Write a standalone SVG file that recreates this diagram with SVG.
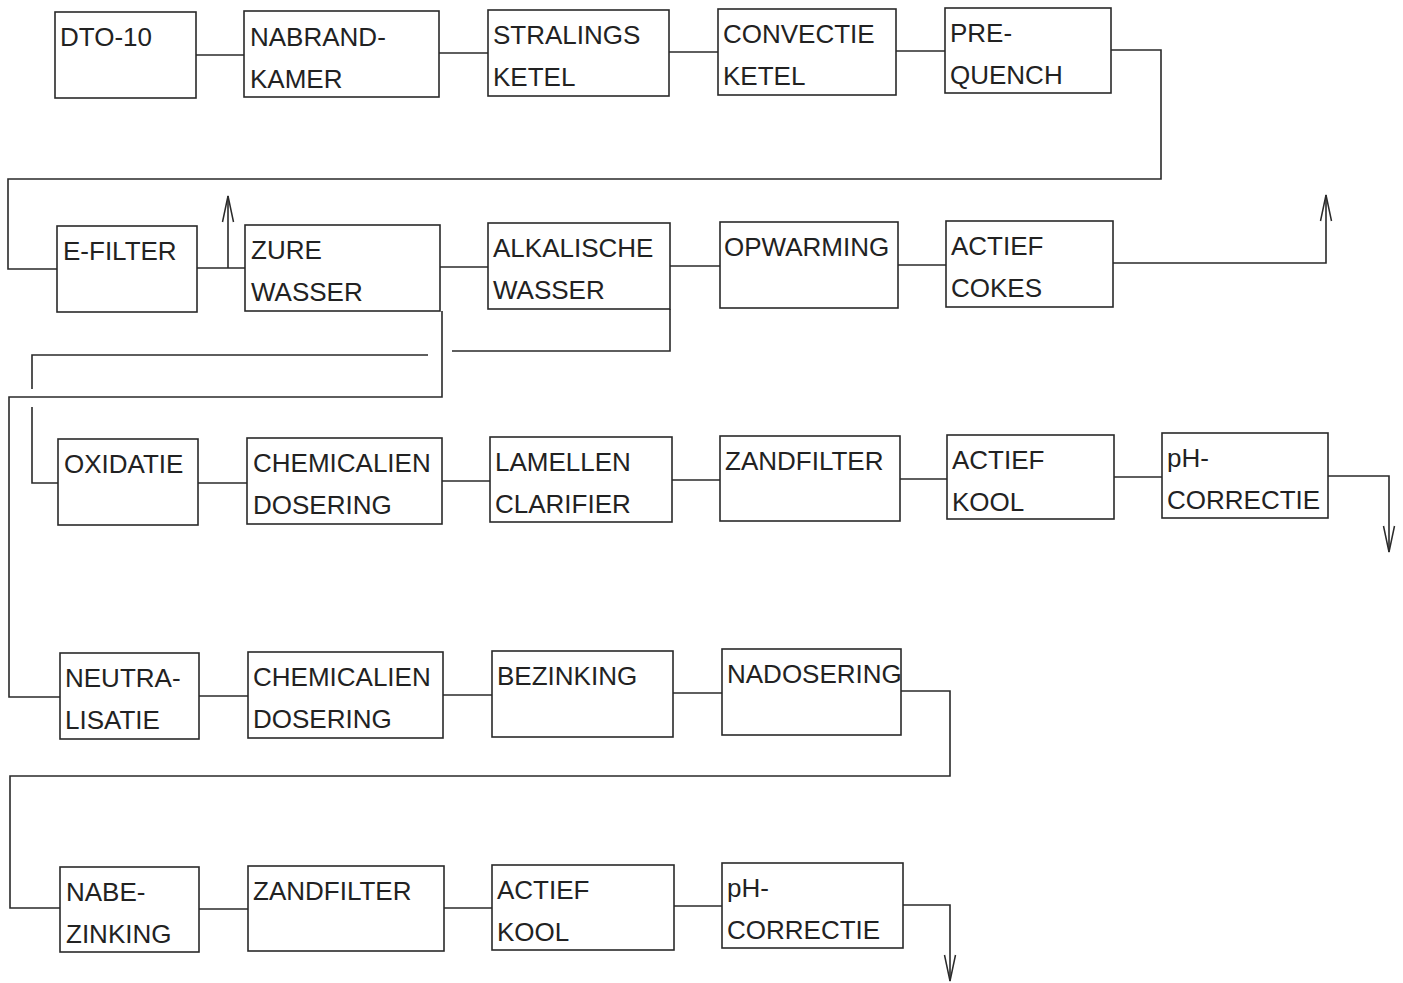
<svg xmlns="http://www.w3.org/2000/svg" width="1403" height="983" viewBox="0 0 1403 983">
<style>
.box{fill:none;stroke:#2a2a2a;stroke-width:1.6}
.ln{fill:none;stroke:#2a2a2a;stroke-width:1.6}
text{font-family:"Liberation Sans",Arial,sans-serif;font-size:26px;fill:#222}
</style>
<defs>
<marker id="ah" markerUnits="userSpaceOnUse" markerWidth="32" markerHeight="16" viewBox="-30 -8 32 16" refX="0" refY="0" orient="auto">
<path d="M-26,-5.5 L0,0 L-26,5.5" fill="none" stroke="#2a2a2a" stroke-width="1.5"/>
</marker>
</defs>
<rect width="1403" height="983" fill="#fff"/>
<g id="connectors">
<path class="ln" d="M196,55 H244"/>
<path class="ln" d="M439,53 H488"/>
<path class="ln" d="M669,52 H718"/>
<path class="ln" d="M896,51 H945"/>
<path class="ln" d="M1111,50 H1161 V179 H8 V269 H57"/>
<path class="ln" d="M197,268 H245"/>
<path class="ln" d="M228,268 V196" marker-end="url(#ah)"/>
<path class="ln" d="M440,267 H488"/>
<path class="ln" d="M670,266 H720"/>
<path class="ln" d="M898,265 H946"/>
<path class="ln" d="M1113,263 H1326 V195" marker-end="url(#ah)"/>
<path class="ln" d="M442,311 V397 H9 V697 H60"/>
<path class="ln" d="M670,309 V351 H452"/>
<path class="ln" d="M428,355 H32 V389"/>
<path class="ln" d="M32,407 V483 H58"/>
<path class="ln" d="M198,483 H247"/>
<path class="ln" d="M442,481 H490"/>
<path class="ln" d="M672,480 H720"/>
<path class="ln" d="M900,479 H947"/>
<path class="ln" d="M1114,477 H1162"/>
<path class="ln" d="M1328,476 H1389 V552" marker-end="url(#ah)"/>
<path class="ln" d="M199,696 H248"/>
<path class="ln" d="M443,695 H492"/>
<path class="ln" d="M673,693 H722"/>
<path class="ln" d="M901,691 H950 V776 H10 V908 H60"/>
<path class="ln" d="M199,909 H248"/>
<path class="ln" d="M444,908 H492"/>
<path class="ln" d="M674,906 H722"/>
<path class="ln" d="M903,905 H950 V981" marker-end="url(#ah)"/>
</g>
<g id="dto10"><rect class="box" x="55" y="12" width="141" height="86"/><text x="60" y="46">DTO-10</text></g>
<g id="nabrandkamer"><rect class="box" x="244" y="11" width="195" height="86"/><text x="250" y="46">NABRAND-</text><text x="250" y="88">KAMER</text></g>
<g id="stralingsketel"><rect class="box" x="488" y="10" width="181" height="86"/><text x="493" y="44">STRALINGS</text><text x="493" y="86">KETEL</text></g>
<g id="convectieketel"><rect class="box" x="718" y="9" width="178" height="86"/><text x="723" y="43">CONVECTIE</text><text x="723" y="85">KETEL</text></g>
<g id="prequench"><rect class="box" x="945" y="8" width="166" height="85"/><text x="950" y="42">PRE-</text><text x="950" y="84">QUENCH</text></g>
<g id="efilter"><rect class="box" x="57" y="226" width="140" height="86"/><text x="63" y="260">E-FILTER</text></g>
<g id="zurewasser"><rect class="box" x="245" y="225" width="195" height="86"/><text x="251" y="259">ZURE</text><text x="251" y="301">WASSER</text></g>
<g id="alkalischewasser"><rect class="box" x="488" y="223" width="182" height="86"/><text x="493" y="257">ALKALISCHE</text><text x="493" y="299">WASSER</text></g>
<g id="opwarming"><rect class="box" x="720" y="222" width="178" height="86"/><text x="724" y="256">OPWARMING</text></g>
<g id="actiefcokes"><rect class="box" x="946" y="221" width="167" height="86"/><text x="951" y="255">ACTIEF</text><text x="951" y="297">COKES</text></g>
<g id="oxidatie"><rect class="box" x="58" y="439" width="140" height="86"/><text x="64" y="473">OXIDATIE</text></g>
<g id="chemdosering1"><rect class="box" x="247" y="438" width="195" height="86"/><text x="253" y="472">CHEMICALIEN</text><text x="253" y="514">DOSERING</text></g>
<g id="lamellenclarifier"><rect class="box" x="490" y="437" width="182" height="85"/><text x="495" y="471">LAMELLEN</text><text x="495" y="513">CLARIFIER</text></g>
<g id="zandfilter1"><rect class="box" x="720" y="436" width="180" height="85"/><text x="725" y="470">ZANDFILTER</text></g>
<g id="actiefkool1"><rect class="box" x="947" y="435" width="167" height="84"/><text x="952" y="469">ACTIEF</text><text x="952" y="511">KOOL</text></g>
<g id="phcorrectie1"><rect class="box" x="1162" y="433" width="166" height="85"/><text x="1167" y="467">pH-</text><text x="1167" y="509">CORRECTIE</text></g>
<g id="neutralisatie"><rect class="box" x="60" y="653" width="139" height="86"/><text x="65" y="687">NEUTRA-</text><text x="65" y="729">LISATIE</text></g>
<g id="chemdosering2"><rect class="box" x="248" y="652" width="195" height="86"/><text x="253" y="686">CHEMICALIEN</text><text x="253" y="728">DOSERING</text></g>
<g id="bezinking"><rect class="box" x="492" y="651" width="181" height="86"/><text x="497" y="685">BEZINKING</text></g>
<g id="nadosering"><rect class="box" x="722" y="649" width="179" height="86"/><text x="727" y="683">NADOSERING</text></g>
<g id="nabezinking"><rect class="box" x="60" y="867" width="139" height="85"/><text x="66" y="901">NABE-</text><text x="66" y="943">ZINKING</text></g>
<g id="zandfilter2"><rect class="box" x="248" y="866" width="196" height="85"/><text x="253" y="900">ZANDFILTER</text></g>
<g id="actiefkool2"><rect class="box" x="492" y="865" width="182" height="85"/><text x="497" y="899">ACTIEF</text><text x="497" y="941">KOOL</text></g>
<g id="phcorrectie2"><rect class="box" x="722" y="863" width="181" height="85"/><text x="727" y="897">pH-</text><text x="727" y="939">CORRECTIE</text></g>
</svg>
